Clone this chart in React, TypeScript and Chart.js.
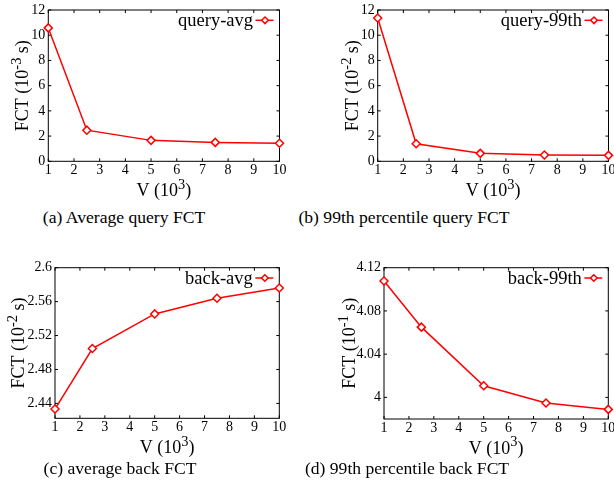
import React, { useEffect, useRef } from 'react';
import { Chart, registerables } from 'chart.js';

Chart.register(...registerables);

// ---- data ----
const vValues = [1, 2.5, 5, 7.5, 10];
const queryAvg = [10.58, 2.47, 1.66, 1.5, 1.43];
const query99th = [11.37, 1.39, 0.63, 0.5, 0.47];
const backAvg = [2.4333, 2.5047, 2.5455, 2.5639, 2.5761];
const back99th = [4.1077, 4.065, 4.0108, 3.9948, 3.9889];

const xTickValues = [1, 2, 3, 4, 5, 6, 7, 8, 9, 10];
const yTicksA = [0, 2, 4, 6, 8, 10, 12];
const yTicksB = [0, 2, 4, 6, 8, 10, 12];
const yTicksC = [2.44, 2.48, 2.52, 2.56, 2.6];
const yTicksD = [4, 4.04, 4.08, 4.12];

const seriesNames = ['query-avg', 'query-99th', 'back-avg', 'back-99th'];
const yExponents = ['-3', '-2', '-2', '-1'];
const captions = [
  '(a) Average query FCT',
  '(b) 99th percentile query FCT',
  '(c) average back FCT',
  '(d) 99th percentile back FCT',
];

const FONT = "'Liberation Serif', 'Times New Roman', serif";
const RED = '#ff0000';

type Panel = {
  values: number[];
  yTicks: number[];
  yMin: number;
  yMax: number;
  name: string;
  exp: string;
  canvas: { left: number; top: number; width: number; height: number };
  area: { l: number; t: number; r: number; b: number };
  yTitleOffset: number;
  caption: string;
  captionX: number;
  captionTop: number;
};

const panels: Panel[] = [
  {
    values: queryAvg, yTicks: yTicksA, yMin: 0, yMax: 12, name: seriesNames[0], exp: yExponents[0],
    canvas: { left: 0, top: 0, width: 307, height: 205 },
    area: { l: 48.3, t: 10, r: 279.5, b: 161.3 }, yTitleOffset: 20,
    caption: captions[0], captionX: 124, captionTop: 207,
  },
  {
    values: query99th, yTicks: yTicksB, yMin: 0, yMax: 12, name: seriesNames[1], exp: yExponents[1],
    canvas: { left: 307, top: 0, width: 307, height: 205 },
    area: { l: 377.7, t: 10, r: 609, b: 161.3 }, yTitleOffset: 19.5,
    caption: captions[1], captionX: 404, captionTop: 207,
  },
  {
    values: backAvg, yTicks: yTicksC, yMin: 2.4224, yMax: 2.6, name: seriesNames[2], exp: yExponents[2],
    canvas: { left: 0, top: 250, width: 307, height: 212 },
    area: { l: 55, t: 267.7, r: 279.3, b: 418.3 }, yTitleOffset: 31,
    caption: captions[2], captionX: 120, captionTop: 458,
  },
  {
    values: back99th, yTicks: yTicksD, yMin: 3.98, yMax: 4.12, name: seriesNames[3], exp: yExponents[3],
    canvas: { left: 307, top: 250, width: 307, height: 212 },
    area: { l: 384, t: 267.7, r: 608.3, b: 419 }, yTitleOffset: 29,
    caption: captions[3], captionX: 407, captionTop: 458,
  },
];

function drawRich(
  ctx: CanvasRenderingContext2D,
  parts: [string, boolean][],
  x: number,
  y: number,
  size: number,
  rotate: boolean
) {
  ctx.save();
  ctx.translate(x, y);
  if (rotate) ctx.rotate(-Math.PI / 2);
  ctx.fillStyle = '#000';
  ctx.textBaseline = 'alphabetic';
  ctx.textAlign = 'left';
  let total = 0;
  const widths: number[] = [];
  for (const [t, sup] of parts) {
    ctx.font = `${sup ? size * 0.8 : size}px ${FONT}`;
    const w = ctx.measureText(t).width;
    widths.push(w);
    total += w;
  }
  let cx = -total / 2;
  parts.forEach(([t, sup], i) => {
    ctx.font = `${sup ? size * 0.8 : size}px ${FONT}`;
    ctx.fillText(t, cx, sup ? -size * 0.4 : 0);
    cx += widths[i];
  });
  ctx.restore();
}

const gnuPlugin = {
  id: 'gnu',
  beforeDatasetsDraw(chart: any, _args: any, opts: any) {
    const ctx: CanvasRenderingContext2D = chart.ctx;
    const { left, top, right, bottom } = chart.chartArea;
    const xs = chart.scales.x;
    const ys = chart.scales.y;
    ctx.save();
    ctx.strokeStyle = '#000';
    ctx.lineWidth = 1;
    ctx.beginPath();
    const tl = 3;
    for (const t of xs.ticks) {
      const px = xs.getPixelForValue(t.value);
      ctx.moveTo(px, bottom);
      ctx.lineTo(px, bottom - tl);
      ctx.moveTo(px, top);
      ctx.lineTo(px, top + tl);
    }
    for (const t of ys.ticks) {
      const py = ys.getPixelForValue(t.value);
      ctx.moveTo(left, py);
      ctx.lineTo(left + tl, py);
      ctx.moveTo(right, py);
      ctx.lineTo(right - tl, py);
    }
    ctx.stroke();
    ctx.strokeRect(left, top, right - left, bottom - top);
    ctx.restore();

    // axis titles
    drawRich(ctx, [['V (10', false], ['3', true], [')', false]], (left + right) / 2, bottom + 34.5, 18, false);
    drawRich(
      ctx,
      [['FCT (10', false], [opts.exp, true], [' s)', false]],
      left - opts.yTitleOffset,
      (top + bottom) / 2,
      18,
      true
    );
  },
  afterDraw(chart: any, _args: any, opts: any) {
    const ctx: CanvasRenderingContext2D = chart.ctx;
    const { top, right } = chart.chartArea;
    const ly = top + 10.3;
    ctx.save();
    ctx.fillStyle = '#000';
    ctx.font = `18.5px ${FONT}`;
    ctx.textAlign = 'right';
    ctx.textBaseline = 'middle';
    ctx.fillText(opts.name, right - 26.5, ly + 1);
    ctx.strokeStyle = RED;
    ctx.lineWidth = 1.5;
    ctx.beginPath();
    ctx.moveTo(right - 24, ly);
    ctx.lineTo(right - 6, ly);
    ctx.stroke();
    const cx = right - 14.5;
    const r = 3.3;
    ctx.beginPath();
    ctx.moveTo(cx, ly - r);
    ctx.lineTo(cx + r, ly);
    ctx.lineTo(cx, ly + r);
    ctx.lineTo(cx - r, ly);
    ctx.closePath();
    ctx.fillStyle = '#fff';
    ctx.fill();
    ctx.stroke();
    ctx.restore();
  },
};

function PanelChart({ p }: { p: Panel }) {
  const ref = useRef<HTMLCanvasElement | null>(null);
  useEffect(() => {
    if (!ref.current) return;
    const c = p.canvas;
    const a = p.area;
    const yAxisWidth = a.l - c.left;
    const xAxisHeight = c.top + c.height - a.b;
    const tickFont = { family: FONT, size: 14 };
    const chart = new Chart(ref.current, {
      type: 'line',
      data: {
        datasets: [
          {
            label: p.name,
            data: vValues.map((v, i) => ({ x: v, y: p.values[i] })),
            borderColor: RED,
            borderWidth: 1.5,
            pointStyle: 'rectRot',
            pointRadius: 4,
            pointBorderWidth: 1.5,
            pointBorderColor: RED,
            pointBackgroundColor: '#fff',
            fill: false,
            tension: 0,
            clip: false,
          } as any,
        ],
      },
      options: {
        animation: false,
        responsive: false,
        maintainAspectRatio: false,
        layout: {
          padding: { left: 0, top: a.t - c.top, right: c.left + c.width - a.r, bottom: 0 },
        },
        plugins: {
          legend: { display: false },
          tooltip: { enabled: false },
          gnu: { name: p.name, exp: p.exp, yTitleOffset: p.yTitleOffset },
        } as any,
        scales: {
          x: {
            type: 'linear',
            min: 1,
            max: 10,
            grid: { display: false, drawTicks: false },
            border: { display: false },
            ticks: {
              padding: 1,
              font: tickFont,
              color: '#000',
              autoSkip: false,
              maxRotation: 0,
              callback: (v: any) => String(v),
            },
            afterBuildTicks: (s: any) => {
              s.ticks = xTickValues.map((v) => ({ value: v }));
            },
            afterFit: (s: any) => {
              s.height = xAxisHeight;
              s.paddingLeft = 0;
              s.paddingRight = 0;
            },
          },
          y: {
            type: 'linear',
            min: p.yMin,
            max: p.yMax,
            grid: { display: false, drawTicks: false },
            border: { display: false },
            ticks: {
              padding: 3,
              font: tickFont,
              color: '#000',
              autoSkip: false,
              callback: (v: any) => String(v),
            },
            afterBuildTicks: (s: any) => {
              s.ticks = p.yTicks.map((v) => ({ value: v }));
            },
            afterFit: (s: any) => {
              s.width = yAxisWidth;
              s.paddingTop = 0;
              s.paddingBottom = 0;
            },
          },
        },
      } as any,
      plugins: [gnuPlugin as any],
    });
    return () => chart.destroy();
  }, [p]);
  const c = p.canvas;
  return (
    <canvas
      ref={ref}
      width={c.width}
      height={c.height}
      style={{ position: 'absolute', left: c.left, top: c.top, width: c.width, height: c.height }}
    />
  );
}

export default function App() {
  return (
    <div style={{ position: 'absolute', left: 0, top: 0, width: 614, height: 494, background: '#fff', overflow: 'hidden' }}>
      {panels.map((p, i) => (
        <PanelChart key={i} p={p} />
      ))}
      {panels.map((p, i) => (
        <div
          key={'c' + i}
          style={{
            position: 'absolute',
            left: p.captionX - 200,
            width: 400,
            top: p.captionTop,
            textAlign: 'center',
            fontFamily: FONT,
            fontSize: 17.6,
            lineHeight: '20px',
            color: '#000',
            whiteSpace: 'pre',
          }}
        >
          {p.caption}
        </div>
      ))}
    </div>
  );
}
